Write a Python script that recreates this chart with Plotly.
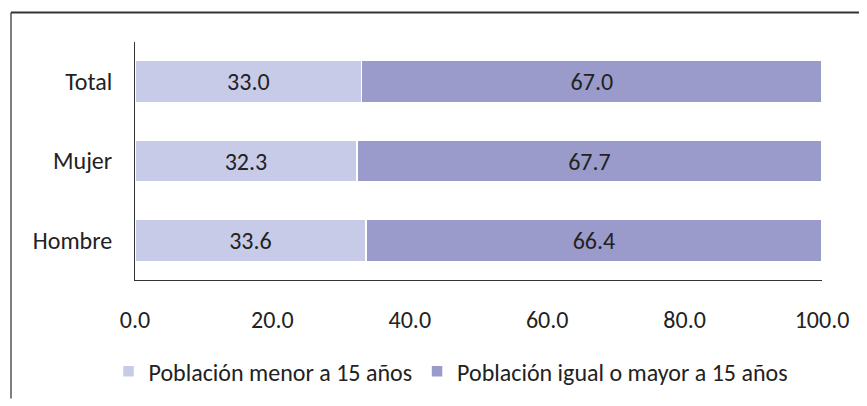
import plotly.graph_objects as go

categories = ["Hombre", "Mujer", "Total"]
menor = [33.6, 32.3, 33.0]
mayor = [66.4, 67.7, 67.0]
series_names = ["Población menor a 15 años", "Población igual o mayor a 15 años"]
tick_vals = [0, 20, 40, 60, 80, 100]
tick_text = ["0.0", "20.0", "40.0", "60.0", "80.0", "100.0"]

font_family = "Carlito, Lato, 'Open Sans', sans-serif"
light = "#c8cbe8"
dark = "#9a9bcb"

W, H = 859, 398
ML, MR, MT, MB = 127, 45, 34, 121

fig = go.Figure()
fig.add_trace(go.Bar(
    y=categories, x=menor, orientation="h", name=series_names[0],
    marker=dict(color=light, line=dict(color="white", width=1.5)),
    text=[f"{v:.1f}" for v in menor], textposition="inside",
    insidetextanchor="middle", textfont=dict(size=24, color="#222222"),
    width=0.53,
))
fig.add_trace(go.Bar(
    y=categories, x=mayor, orientation="h", name=series_names[1],
    marker=dict(color=dark, line=dict(color="white", width=1.5)),
    text=[f"{v:.1f}" for v in mayor], textposition="inside",
    insidetextanchor="middle", textfont=dict(size=24, color="#222222"),
    width=0.53,
))

fig.update_layout(
    barmode="stack",
    width=W, height=H,
    margin=dict(l=ML, r=MR, t=MT, b=MB),
    paper_bgcolor="white", plot_bgcolor="white",
    font=dict(family=font_family, size=24, color="#222222"),
    xaxis=dict(range=[0, 100], tickvals=tick_vals, ticktext=tick_text,
               showgrid=False, zeroline=False, showline=True,
               linecolor="#333333", linewidth=1, ticks="",
               ticklabelstandoff=18, tickfont=dict(size=24)),
    yaxis=dict(showgrid=False, zeroline=False, showline=True,
               linecolor="#333333", linewidth=1, ticks="",
               ticklabelstandoff=17, tickfont=dict(size=24)),
    legend=dict(orientation="h", x=0.46, xanchor="center", y=-0.385,
                yanchor="middle", font=dict(size=24),
                itemwidth=30, traceorder="normal"),
    showlegend=True,
    uniformtext=dict(mode="show", minsize=10),
)

px_w = W - ML - MR
px_h = H - MT - MB
def px_to_paper_x(px):
    return (px - ML) / px_w
def px_to_paper_y(py):
    return (H - MB - py) / px_h

fig.add_shape(type="line", xref="paper", yref="paper",
              x0=px_to_paper_x(3), x1=px_to_paper_x(3),
              y0=px_to_paper_y(4), y1=px_to_paper_y(H),
              line=dict(color="#555555", width=1.5))
fig.add_shape(type="line", xref="paper", yref="paper",
              x0=px_to_paper_x(3), x1=px_to_paper_x(W),
              y0=px_to_paper_y(4), y1=px_to_paper_y(4),
              line=dict(color="#333333", width=2))

fig.write_html("out.html")
